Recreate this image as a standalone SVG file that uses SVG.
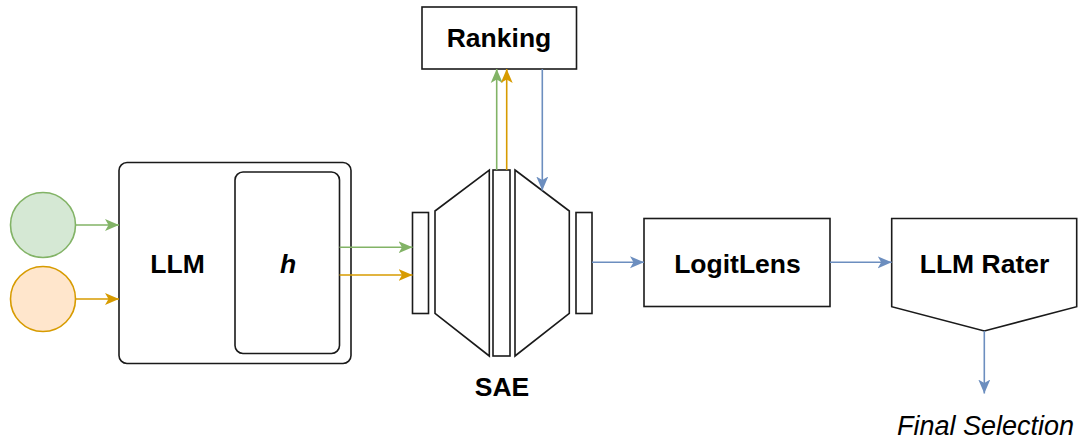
<svg xmlns="http://www.w3.org/2000/svg" width="1088" height="441" viewBox="0 0 1088 441">
<style>
.box{fill:#fff;stroke:#1a1a1a;stroke-width:1.6}
.lbl{font-family:"Liberation Sans",Arial,sans-serif;font-weight:bold;font-size:26.5px;fill:#000;text-anchor:middle}
.g{stroke:#82b366;stroke-width:1.6;fill:none}
.o{stroke:#d79b00;stroke-width:1.6;fill:none}
.b{stroke:#6c8ebf;stroke-width:1.6;fill:none}
</style>
<defs>
<marker id="ag" markerUnits="userSpaceOnUse" markerWidth="15" markerHeight="13" refX="14" refY="6.5" orient="auto"><path d="M0,0.5 L14,6.5 L0,12.5 L3.5,6.5 z" fill="#82b366"/></marker>
<marker id="ao" markerUnits="userSpaceOnUse" markerWidth="15" markerHeight="13" refX="14" refY="6.5" orient="auto"><path d="M0,0.5 L14,6.5 L0,12.5 L3.5,6.5 z" fill="#d79b00"/></marker>
<marker id="ab" markerUnits="userSpaceOnUse" markerWidth="15" markerHeight="13" refX="14" refY="6.5" orient="auto"><path d="M0,0.5 L14,6.5 L0,12.5 L3.5,6.5 z" fill="#6c8ebf"/></marker>
</defs>
<g id="input-green"><circle cx="43" cy="225" r="32.5" fill="#d5e8d4" stroke="#82b366" stroke-width="1.6"/></g>
<g id="input-orange"><circle cx="43" cy="299" r="32.5" fill="#ffe6cc" stroke="#d79b00" stroke-width="1.6"/></g>
<g id="llm"><rect class="box" x="119" y="162.5" width="232" height="201" rx="8"/><text class="lbl" x="177.5" y="273">LLM</text></g>
<g id="h"><rect class="box" x="235" y="172" width="104.5" height="181.5" rx="8"/><text class="lbl" x="288" y="273" font-style="italic">h</text></g>
<g id="ranking"><rect class="box" x="422" y="7" width="154.5" height="62"/><text class="lbl" x="499" y="47">Ranking</text></g>
<g id="sae">
<rect class="box" x="412.5" y="212.5" width="16" height="101"/>
<polygon class="box" points="435,211 489.3,170 489.3,356 435,313.3"/>
<rect class="box" x="493" y="170" width="17" height="186"/>
<polygon class="box" points="515,170 569.3,211 569.3,313.3 515,356"/>
<rect class="box" x="576" y="212.5" width="16" height="101"/>
<text class="lbl" x="502" y="395.5">SAE</text>
</g>
<g id="logitlens"><rect class="box" x="644" y="218.5" width="186" height="88"/><text class="lbl" x="737.5" y="273" font-size="27.5">LogitLens</text></g>
<g id="rater"><polygon class="box" points="891.7,218.5 1076.7,218.5 1076.7,306.7 984.3,331 891.7,306.7"/><text class="lbl" x="984.5" y="273" font-size="27.5">LLM Rater</text></g>
<g id="final"><text x="985.5" y="435" font-family="'Liberation Sans',Arial,sans-serif" font-style="italic" font-size="27" fill="#000" text-anchor="middle">Final Selection</text></g>
<g id="connectors">
<line class="g" x1="76" y1="225" x2="119" y2="225" marker-end="url(#ag)"/>
<line class="o" x1="76" y1="299" x2="119" y2="299" marker-end="url(#ao)"/>
<line class="g" x1="339.5" y1="247.3" x2="412.5" y2="247.3" marker-end="url(#ag)"/>
<line class="o" x1="339.5" y1="275" x2="412.5" y2="275" marker-end="url(#ao)"/>
<line class="g" x1="496.7" y1="170" x2="496.7" y2="69" marker-end="url(#ag)"/>
<line class="o" x1="506.7" y1="170" x2="506.7" y2="69" marker-end="url(#ao)"/>
<line class="b" x1="542.3" y1="69" x2="542.3" y2="190.5" marker-end="url(#ab)"/>
<line class="b" x1="592" y1="262.3" x2="644" y2="262.3" marker-end="url(#ab)"/>
<line class="b" x1="830" y1="262.3" x2="891.7" y2="262.3" marker-end="url(#ab)"/>
<line class="b" x1="984.3" y1="331" x2="984.3" y2="393.5" marker-end="url(#ab)"/>
</g>
</svg>
